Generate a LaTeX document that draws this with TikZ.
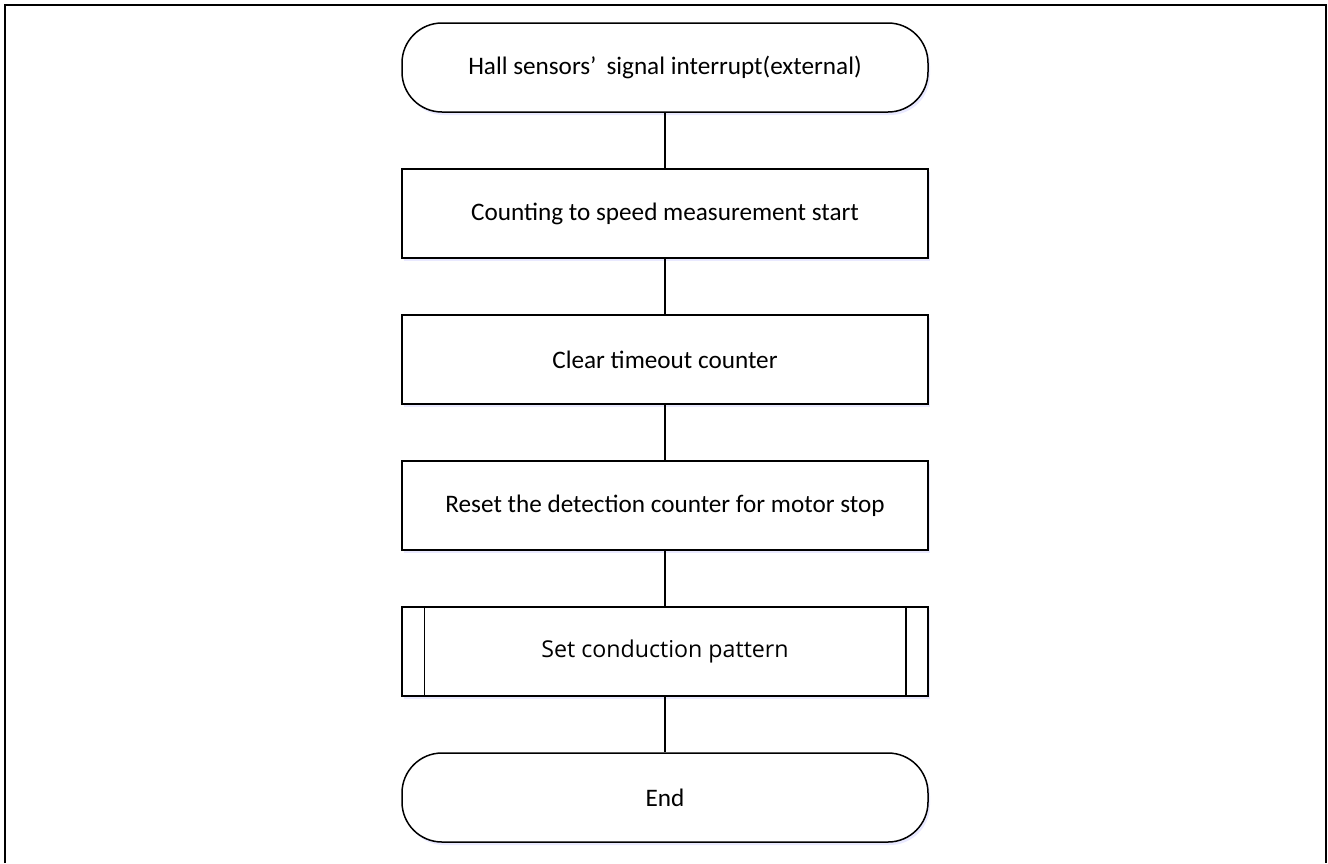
\documentclass[tikz,border=0pt]{standalone}
\usepackage{fontspec}
\setmainfont{Carlito}
\newfontfamily\subfont{Open Sans}
\usetikzlibrary{shadows}
\begin{document}
\begin{tikzpicture}[x=0.5pt,y=-0.5pt,
  flowline/.style={line width=0.75pt,black},
  softshadow/.style={drop shadow={shadow xshift=1pt,shadow yshift=-1.5pt,fill=blue!25!white,opacity=0.35}},
  terminal/.style={draw,line width=0.75pt,fill=white,rounded corners=20pt,
    minimum width=263pt,minimum height=44.5pt,inner sep=0pt,font=\fontsize{12.6pt}{15pt}\selectfont,softshadow},
  process/.style={draw,line width=0.75pt,fill=white,
    minimum width=263pt,minimum height=44.5pt,inner sep=0pt,font=\fontsize{12.6pt}{15pt}\selectfont,softshadow},
  subproc/.style={process,font=\subfont\fontsize{11.6pt}{14pt}\selectfont}]
\useasboundingbox (0,0) rectangle (1328,863);
% open frame: left, top and right edges
\draw[line width=1pt] (5,863) -- (5,5) -- (1326,5) -- (1326,863);

\node[terminal] (start) at (665,67.5) {Hall sensors’\hspace{5pt}signal interrupt(external)};
\node[process]  (count) at (665,213.5) {Counting to speed measurement start};
\node[process]  (clear) at (665,359.5) {Clear timeout counter};
\node[process]  (reset) at (665,505.5) {Reset the detection counter for motor stop};
\node[subproc]  (pattern) at (665,651.5) {Set conduction pattern};
\node[terminal] (stop) at (665,797.5) {End};

% side bars of the predefined-process box
\draw[flowline] ([xshift=11.5pt]pattern.north west) -- ([xshift=11.5pt]pattern.south west);
\draw[flowline] ([xshift=-11.5pt]pattern.north east) -- ([xshift=-11.5pt]pattern.south east);

\draw[flowline] (start) -- (count);
\draw[flowline] (count) -- (clear);
\draw[flowline] (clear) -- (reset);
\draw[flowline] (reset) -- (pattern);
\draw[flowline] (pattern) -- (stop);
\end{tikzpicture}
\end{document}
